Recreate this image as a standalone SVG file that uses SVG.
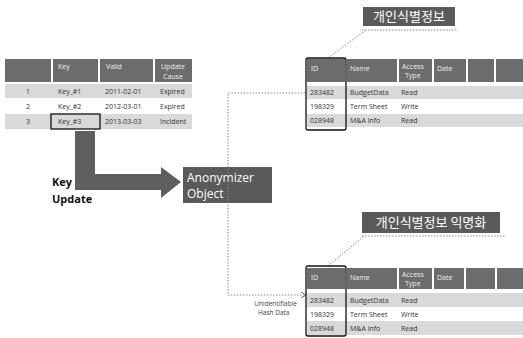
<svg xmlns="http://www.w3.org/2000/svg" width="523" height="338" viewBox="0 0 523 338">
<style>
.hd{fill:#6c6c6c}
.band{fill:#d9d9d9}
.ht{font-family:"Open Sans","DejaVu Sans",sans-serif;font-size:7px;fill:#f2f2f2}
.dt{font-family:"Open Sans","DejaVu Sans",sans-serif;font-size:7px;fill:#333}
.dot{fill:none;stroke:#8a8a8a;stroke-width:1;stroke-dasharray:1.5,1.5}
.box{fill:none;stroke:#111;stroke-width:1.3}
.lbl{fill:#5a5a5a}
.lt{font-family:"Noto Sans CJK KR","Noto Sans",sans-serif;font-size:13px;fill:#fff;text-anchor:middle}
.at{font-family:"Open Sans","DejaVu Sans",sans-serif;font-size:12px;fill:#fff}
</style>
<defs>
<marker id="ah" markerWidth="6" markerHeight="6" refX="5" refY="3" orient="auto" markerUnits="userSpaceOnUse">
<path d="M0,0 L5,3 L0,6" fill="none" stroke="#666" stroke-width="1"/>
</marker>
</defs>
<rect width="523" height="338" fill="#fff"/>

<g id="key-table">
<rect class="hd" x="5" y="59" width="46" height="23"/>
<rect class="hd" x="53" y="59" width="45" height="23"/>
<rect class="hd" x="100" y="59" width="53" height="23"/>
<rect class="hd" x="155" y="59" width="37" height="23"/>
<text class="ht" x="58" y="69">Key</text>
<text class="ht" x="106" y="69">Valid</text>
<text class="ht" x="161" y="69">Update</text>
<text class="ht" x="163" y="79">Cause</text>
<rect class="band" x="5" y="84" width="187" height="14"/>
<rect class="band" x="5" y="114" width="187" height="15"/>
<text class="dt" x="28" y="94" text-anchor="middle">1</text>
<text class="dt" x="58" y="94">Key_#1</text>
<text class="dt" x="105" y="94">2011-02-01</text>
<text class="dt" x="160" y="94">Expired</text>
<text class="dt" x="28" y="109" text-anchor="middle">2</text>
<text class="dt" x="58" y="109">Key_#2</text>
<text class="dt" x="105" y="109">2012-03-01</text>
<text class="dt" x="160" y="109">Expired</text>
<text class="dt" x="28" y="124" text-anchor="middle">3</text>
<text class="dt" x="58" y="124">Key_#3</text>
<text class="dt" x="105" y="124">2013-03-03</text>
<text class="dt" x="160" y="124">Incident</text>
<rect class="box" x="51" y="114" width="49" height="15"/>
</g>

<g id="key-update-arrow">
<path d="M75,131 L95,131 L95,174 L161,174 L161,167 L181,182 L161,198 L161,190 L75,190 Z" fill="#5e5e5e"/>
<text x="52" y="186" font-family="'Open Sans','DejaVu Sans',sans-serif" font-size="11" font-weight="bold" fill="#111">Key</text>
<text x="52" y="203" font-family="'Open Sans','DejaVu Sans',sans-serif" font-size="11" font-weight="bold" fill="#111">Update</text>
</g>

<g id="anonymizer">
<rect x="183" y="167" width="89" height="36" fill="#5a5a5a"/>
<text class="at" x="187" y="182">Anonymizer</text>
<text class="at" x="187" y="198">Object</text>
</g>

<g id="connectors">
<path class="dot" d="M305,93 L228,93 L228,295"/>
<path class="dot" d="M228,295 L306,295" marker-end="url(#ah)"/>
<path class="dot" d="M328,58 L366,30"/>
<path class="dot" d="M328,266 L364,236"/>
</g>

<g id="label-pii">
<rect class="lbl" x="363" y="7" width="92" height="19"/>
<text class="lt" x="409" y="21">개인식별정보</text>
<path class="dot" d="M362,30 L458,30"/>
</g>

<g id="label-anon">
<rect class="lbl" x="362" y="212" width="138" height="21"/>
<text class="lt" x="431" y="227">개인식별정보 익명화</text>
<path class="dot" d="M362,236 L505,236"/>
</g>

<g id="pii-table">
<rect class="hd" x="307" y="59" width="38" height="23"/>
<rect class="hd" x="347" y="59" width="50" height="23"/>
<rect class="hd" x="399" y="59" width="33" height="23"/>
<rect class="hd" x="434" y="59" width="32" height="23"/>
<rect class="hd" x="468" y="59" width="26" height="23"/>
<rect class="hd" x="496" y="59" width="27" height="23"/>
<text class="ht" x="311" y="71">ID</text>
<text class="ht" x="350" y="71">Name</text>
<text class="ht" x="402" y="69">Access</text>
<text class="ht" x="405" y="78">Type</text>
<text class="ht" x="437" y="71">Date</text>
<rect class="band" x="307" y="86" width="216" height="13"/>
<rect class="band" x="307" y="114" width="216" height="13"/>
<text class="dt" x="310" y="95">283482</text>
<text class="dt" x="350" y="95">BudgetData</text>
<text class="dt" x="401" y="95">Read</text>
<text class="dt" x="310" y="109">198329</text>
<text class="dt" x="350" y="109">Term Sheet</text>
<text class="dt" x="401" y="109">Write</text>
<text class="dt" x="310" y="123">028948</text>
<text class="dt" x="350" y="123">M&amp;A info</text>
<text class="dt" x="401" y="123">Read</text>
<rect class="box" x="306" y="58" width="40" height="72" rx="2"/>
</g>

<g id="anon-table">
<rect class="hd" x="307" y="268" width="38" height="21"/>
<rect class="hd" x="347" y="268" width="50" height="21"/>
<rect class="hd" x="399" y="268" width="33" height="21"/>
<rect class="hd" x="434" y="268" width="30" height="21"/>
<rect class="hd" x="466" y="268" width="29" height="21"/>
<rect class="hd" x="497" y="268" width="26" height="21"/>
<text class="ht" x="311" y="280">ID</text>
<text class="ht" x="350" y="280">Name</text>
<text class="ht" x="402" y="277">Access</text>
<text class="ht" x="405" y="286">Type</text>
<text class="ht" x="437" y="280">Date</text>
<rect class="band" x="307" y="293" width="216" height="14"/>
<rect class="band" x="307" y="321" width="216" height="14"/>
<text class="dt" x="310" y="303">283482</text>
<text class="dt" x="350" y="303">BudgetData</text>
<text class="dt" x="401" y="303">Read</text>
<text class="dt" x="310" y="317">198329</text>
<text class="dt" x="350" y="317">Term Sheet</text>
<text class="dt" x="401" y="317">Write</text>
<text class="dt" x="310" y="331">028948</text>
<text class="dt" x="350" y="331">M&amp;A info</text>
<text class="dt" x="401" y="331">Read</text>
<rect class="box" x="306" y="266" width="40" height="70" rx="2"/>
</g>

<g id="hash-note">
<text x="297" y="306" text-anchor="end" font-family="'Open Sans','DejaVu Sans',sans-serif" font-size="6.5" fill="#444">Unidentifiable</text>
<text x="258" y="315" font-family="'Open Sans','DejaVu Sans',sans-serif" font-size="6.5" fill="#444">Hash Data</text>
</g>
</svg>
